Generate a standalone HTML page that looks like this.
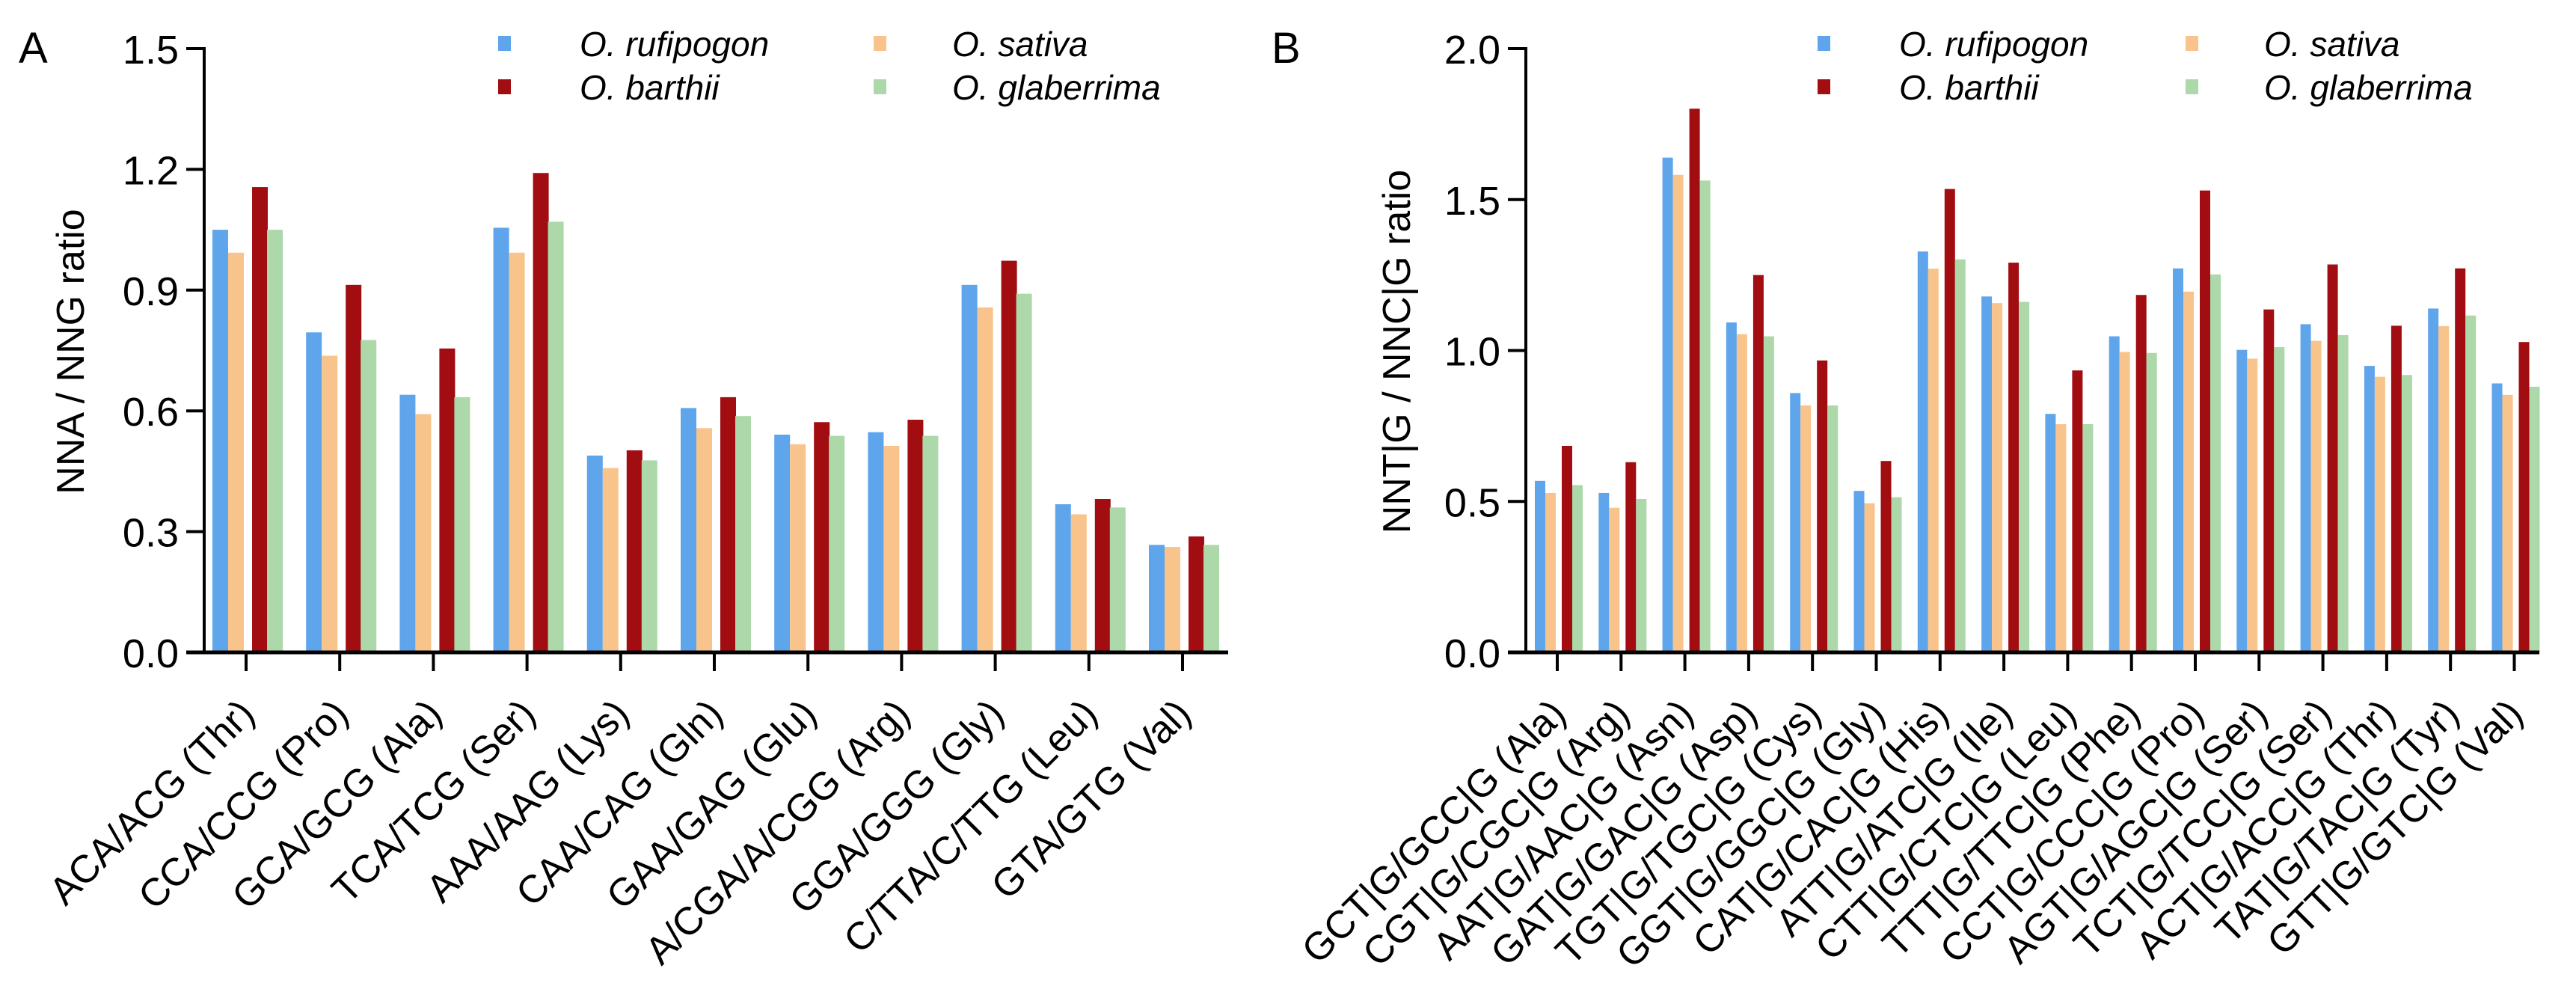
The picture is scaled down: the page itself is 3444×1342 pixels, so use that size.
<!DOCTYPE html>
<html><head><meta charset="utf-8"><style>
body{margin:0;background:#fff}
svg{display:block;font-family:"Liberation Sans",Arial,sans-serif}
</style></head><body>
<svg id="c" width="3444" height="1342" viewBox="0 0 3444 1342"></svg>
<script>
const seriesNames=["O. rufipogon","O. sativa","O. barthii","O. glaberrima"];
const colors=["#5ea5eb","#f8c48c","#a10d10","#acd8aa"];
const catsA=["ACA/ACG (Thr)","CCA/CCG (Pro)","GCA/GCG (Ala)","TCA/TCG (Ser)","AAA/AAG (Lys)","CAA/CAG (Gln)","GAA/GAG (Glu)","A/CGA/A/CGG (Arg)","GGA/GGG (Gly)","C/TTA/C/TTG (Leu)","GTA/GTG (Val)"];
const rufA=[1.05,0.795,0.64,1.055,0.489,0.607,0.541,0.547,0.913,0.368,0.267];
const satA=[0.993,0.737,0.592,0.993,0.458,0.557,0.517,0.513,0.857,0.343,0.262];
const barA=[1.156,0.913,0.755,1.191,0.502,0.634,0.572,0.578,0.973,0.381,0.288];
const glaA=[1.05,0.776,0.634,1.07,0.477,0.587,0.538,0.538,0.891,0.36,0.267];
const ticksA=["0.0","0.3","0.6","0.9","1.2","1.5"];
const catsB=["GCT|G/GCC|G (Ala)","CGT|G/CGC|G (Arg)","AAT|G/AAC|G (Asn)","GAT|G/GAC|G (Asp)","TGT|G/TGC|G (Cys)","GGT|G/GGC|G (Gly)","CAT|G/CAC|G (His)","ATT|G/ATC|G (Ile)","CTT|G/CTC|G (Leu)","TTT|G/TTC|G (Phe)","CCT|G/CCC|G (Pro)","AGT|G/AGC|G (Ser)","TCT|G/TCC|G (Ser)","ACT|G/ACC|G (Thr)","TAT|G/TAC|G (Tyr)","GTT|G/GTC|G (Val)"];
const rufB=[0.568,0.528,1.639,1.093,0.859,0.535,1.328,1.179,0.79,1.047,1.272,1.002,1.087,0.949,1.139,0.891];
const satB=[0.528,0.479,1.582,1.054,0.818,0.494,1.271,1.157,0.756,0.995,1.195,0.973,1.032,0.913,1.081,0.853];
const barB=[0.684,0.63,1.801,1.25,0.967,0.634,1.535,1.291,0.934,1.184,1.53,1.136,1.285,1.082,1.272,1.028];
const glaB=[0.554,0.508,1.563,1.047,0.818,0.514,1.302,1.161,0.756,0.992,1.252,1.011,1.051,0.919,1.116,0.88];
const ticksB=["0.0","0.5","1.0","1.5","2.0"];

const svg=document.getElementById('c');
const NS='http://www.w3.org/2000/svg';
function mk(tag,attrs,parent,text){const e=document.createElementNS(NS,tag);for(const k in attrs)e.setAttribute(k,attrs[k]);if(text!==undefined)e.textContent=text;(parent||svg).appendChild(e);return e;}

function panel(o){
  const g=mk('g',{});
  
  
  const y0=872,y1=65;
  const yS=v=>y0-(v/o.max)*(y0-y1);
  const xC=i=>o.first+i*o.step;
  const series=[o.s[0],o.s[1],o.s[2],o.s[3]];
  for(let s=0;s<4;s++){
    for(let i=0;i<o.cats.length;i++){
      const v=series[s][i];
      const r=mk('rect',{x:xC(i)+o.off[s],y:yS(v),width:o.bw,height:y0-yS(v),fill:colors[s]},g);
      
      
    }
  }
  const ya=mk('line',{x1:o.ax,y1:y1-2,x2:o.ax,y2:y0+2,stroke:'#000','stroke-width':4},g);
  
  
  const xa=mk('line',{x1:o.ax-24,y1:y0,x2:o.xend,y2:y0,stroke:'#000','stroke-width':5},g);
  
  
  for(let t=0;t<o.ticks.length;t++){
    const v=parseFloat(o.ticks[t]);
    mk('line',{x1:o.ax-24,y1:yS(v),x2:o.ax,y2:yS(v),stroke:'#000','stroke-width':4},g);
    const tl=mk('text',{x:o.ax-34,y:yS(v)+20,'text-anchor':'end','font-size':54},g,o.ticks[t]);
    
    
  }
  for(let i=0;i<o.cats.length;i++){
    mk('line',{x1:xC(i),y1:y0,x2:xC(i),y2:897,stroke:'#000','stroke-width':4},g);
    const tl=mk('text',{transform:`translate(${xC(i)+14},${957}) rotate(-45)`,'text-anchor':'end','font-size':o.fs},g,o.cats[i]);
    
    
  }
  const yt=mk('text',{transform:`translate(${o.ylx},${470}) rotate(-90)`,'text-anchor':'middle','font-size':52},g,o.ylabel);
  
  
  const pl=mk('text',{x:o.px,y:84,'font-size':58},g,o.letter);
  
  
  for(let s=0;s<4;s++){
    const col=s===0||s===2?0:1;const row=s<2?0:1;
    const sx=col===0?o.lx1:o.lx2, sy=row===0?48:106;
    const lg=mk('g',{},g);
    
    
    mk('rect',{x:sx,y:sy,width:17,height:20,fill:colors[s]},lg);
    mk('text',{x:sx+(col===0?109:105),y:sy+27,'font-size':46,'font-style':'italic'},lg,seriesNames[s]);
  }
}
panel({id:'a',letter:'A',px:25,cats:catsA,s:[rufA,satA,barA,glaA],ticks:ticksA,max:1.5,ax:273,xend:1642,first:329,step:125.2,off:[-45,-24,8,28],bw:21,fs:52,ylabel:'NNA / NNG ratio',ylx:112,lx1:666,lx2:1168});
panel({id:'b',letter:'B',px:1700,cats:catsB,s:[rufB,satB,barB,glaB],ticks:ticksB,max:2.0,ax:2040,xend:3395,first:2082,step:85.3,off:[-30,-16,6,20],bw:14,fs:52,ylabel:'NNT|G / NNC|G ratio',ylx:1885,lx2:2922,lx1:2430});
</script>
</body></html>
